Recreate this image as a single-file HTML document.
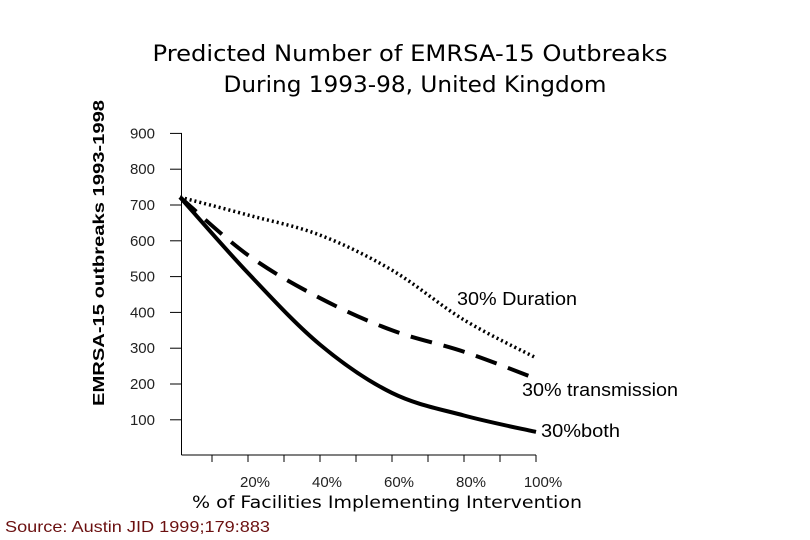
<!DOCTYPE html>
<html><head><meta charset="utf-8"><style>body{margin:0;background:#fff}svg{display:block}</style></head>
<body>
<svg id="chart" width="810" height="540" viewBox="0 0 810 540" xmlns="http://www.w3.org/2000/svg">
<text x="410" y="61" text-anchor="middle" font-family="DejaVu Sans, sans-serif" font-size="22" textLength="515" lengthAdjust="spacingAndGlyphs">Predicted Number of EMRSA-15 Outbreaks</text>
<text x="415" y="92" text-anchor="middle" font-family="DejaVu Sans, sans-serif" font-size="22" textLength="383" lengthAdjust="spacingAndGlyphs">During 1993-98, United Kingdom</text>
<text transform="translate(104,253) rotate(-90)" text-anchor="middle" font-family="Liberation Sans, sans-serif" font-weight="bold" font-size="16" textLength="306" lengthAdjust="spacingAndGlyphs">EMRSA-15 outbreaks 1993-1998</text>
<text x="387" y="508" text-anchor="middle" font-family="DejaVu Sans, sans-serif" font-size="17" textLength="390" lengthAdjust="spacingAndGlyphs">% of Facilities Implementing Intervention</text>
<text x="5" y="532" font-family="Liberation Sans, sans-serif" font-size="16" fill="#6b1010" textLength="265" lengthAdjust="spacingAndGlyphs">Source: Austin JID 1999;179:883</text>
<g id="axes"></g>
<g id="series"></g>
<text x="457" y="305" font-family="Liberation Sans, sans-serif" font-size="18" textLength="120" lengthAdjust="spacingAndGlyphs">30% Duration</text>
<text x="522" y="396" font-family="Liberation Sans, sans-serif" font-size="18" textLength="156" lengthAdjust="spacingAndGlyphs">30% transmission</text>
<text x="541" y="437" font-family="Liberation Sans, sans-serif" font-size="18" textLength="79" lengthAdjust="spacingAndGlyphs">30%both</text>
</svg>
<script>
const yTicks = [100,200,300,400,500,600,700,800,900];
const xTickPcts = [10,20,30,40,50,60,70,80,90,100];
const xLabels = [20,40,60,80,100];
const pcts = [0,20,40,60,80,100];
const duration = [722,672,616,518,379,273];
const transmission = [722,560,440,350,290,215];
const both = [722,510,310,175,112,66];

const NS='http://www.w3.org/2000/svg';
function x(p){return 176+3.6*p;}
function y(v){return 205+(700-v)*0.358;}
function mk(tag,attrs,parent){const e=document.createElementNS(NS,tag);for(const k in attrs)e.setAttribute(k,attrs[k]);parent.appendChild(e);return e;}
const axes=document.getElementById('axes');
const ser=document.getElementById('series');
let a=mk('line',{x1:181.5,y1:133,x2:181.5,y2:455,stroke:'#000','stroke-width':1},axes);


a=mk('line',{x1:181.5,y1:455,x2:536,y2:455,stroke:'#000','stroke-width':1},axes);


yTicks.forEach(v=>{
  const t=mk('line',{x1:170,y1:y(v),x2:182,y2:y(v),stroke:'#000'},axes);
  
  
  const l=mk('text',{x:155,y:y(v)+5,'text-anchor':'end','font-family':'Liberation Sans, sans-serif','font-size':15,fill:'#222'},axes);
  l.textContent=v;
  
  
});
xTickPcts.forEach(p=>{
  const t=mk('line',{x1:x(p),y1:455,x2:x(p),y2:462,stroke:'#000'},axes);
  
  
});
xLabels.forEach(p=>{
  const l=mk('text',{x:x(p)+7,y:487,'text-anchor':'middle','font-family':'Liberation Sans, sans-serif','font-size':15,fill:'#222'},axes);
  l.textContent=p+'%';
  
  
});
function curve(vals){
  const pts=pcts.map((p,i)=>[x(p)+(i==0?4:0),y(vals[i])]);
  let d='M'+pts[0][0]+','+pts[0][1];
  for(let i=0;i<pts.length-1;i++){
    const p0=pts[i-1]||pts[i],p1=pts[i],p2=pts[i+1],p3=pts[i+2]||p2;
    const c1=[p1[0]+(p2[0]-p0[0])/6,p1[1]+(p2[1]-p0[1])/6];
    const c2=[p2[0]-(p3[0]-p1[0])/6,p2[1]-(p3[1]-p1[1])/6];
    d+=` C${c1[0]},${c1[1]} ${c2[0]},${c2[1]} ${p2[0]},${p2[1]}`;
  }
  return d;
}
let s=mk('path',{d:curve(duration),fill:'none',stroke:'#000','stroke-width':3.5,'stroke-dasharray':'2 3'},ser);


s=mk('path',{d:curve(transmission),fill:'none',stroke:'#000','stroke-width':4,'stroke-dasharray':'22 12'},ser);


s=mk('path',{d:curve(both),fill:'none',stroke:'#000','stroke-width':4},ser);


</script>
</body></html>
